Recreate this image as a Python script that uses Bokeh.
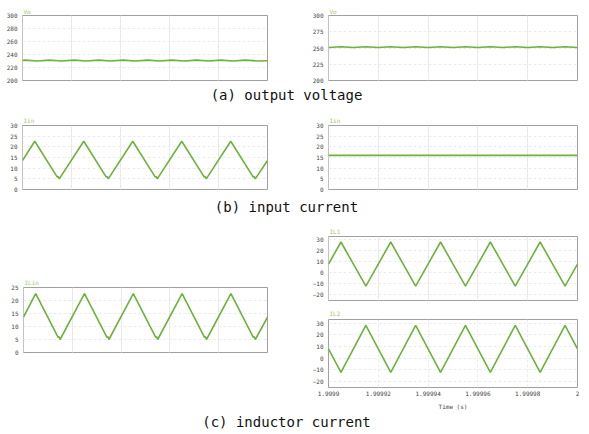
from bokeh.plotting import figure
from bokeh.models import Range1d, FixedTicker, Grid, Div, CustomJSTickFormatter
from bokeh.layouts import row, column
from bokeh.embed import file_html
from bokeh.resources import INLINE

# ---------------- data ----------------
X_RANGE = (1.9999, 2.0)
X_TICKS = [1.9999, 1.99992, 1.99994, 1.99996, 1.99998, 2.0]

# (a) output voltage, left
vo1_t = [1.9999, 1.999901, 1.999906, 1.999911, 1.999916, 1.999921, 1.999926, 1.999931,
         1.999936, 1.999941, 1.999946, 1.999951, 1.999956, 1.999961, 1.999966, 1.999971,
         1.999976, 1.999981, 1.999986, 1.999991, 1.999996, 2.0]
vo1_v = [230.9, 231.3, 230.1, 231.3, 230.1, 231.3, 230.1, 231.3, 230.1, 231.3, 230.1,
         231.3, 230.1, 231.3, 230.1, 231.3, 230.1, 231.3, 230.1, 231.3, 230.1, 230.5]
vo1_ticks = [200, 220, 240, 260, 280, 300]

# (a) output voltage, right
vo2_t = [1.9999, 1.999905, 1.99991, 1.999915, 1.99992, 1.999925, 1.99993, 1.999935,
         1.99994, 1.999945, 1.99995, 1.999955, 1.99996, 1.999965, 1.99997, 1.999975,
         1.99998, 1.999985, 1.99999, 1.999995, 2.0]
vo2_v = [250.8, 251.9, 250.8, 251.9, 250.8, 251.9, 250.8, 251.9, 250.8, 251.9, 250.8,
         251.9, 250.8, 251.9, 250.8, 251.9, 250.8, 251.9, 250.8, 251.9, 250.8]
vo2_ticks = [200, 225, 250, 275, 300]

# (b) input current, left (also (c) left, ILin)
iin1_t = [1.9999, 1.999905, 1.9999142, 1.9999146, 1.999915, 1.999925, 1.9999342, 1.9999346,
          1.999935, 1.999945, 1.9999542, 1.9999546, 1.999955, 1.999965, 1.9999742, 1.9999746,
          1.999975, 1.999985, 1.9999942, 1.9999946, 1.999995, 2.0]
iin1_v = [13.6, 22.6, 5.8, 6.1, 5.0, 22.6, 5.8, 6.1, 5.0, 22.6, 5.8, 6.1, 5.0, 22.6,
          5.8, 6.1, 5.0, 22.6, 5.8, 6.1, 5.0, 13.6]
iin1_ticks = [0, 5, 10, 15, 20, 25, 30]
ilin_ticks = [0, 5, 10, 15, 20, 25]

# (b) input current, right
iin2_t = [1.9999, 2.0]
iin2_v = [16.0, 16.0]

# (c) inductor currents
il_t = [1.9999, 1.999905, 1.999915, 1.999925, 1.999935, 1.999945, 1.999955, 1.999965,
        1.999975, 1.999985, 1.999995, 2.0]
il1_v = [8, 28, -12, 28, -12, 28, -12, 28, -12, 28, -12, 8]
il2_v = [8, -12, 28, -12, 28, -12, 28, -12, 28, -12, 28, 8]
il_ticks = [-20, -10, 0, 10, 20, 30]

captions = ["(a) output voltage", "(b) input current", "(c) inductor current"]

# ---------------- styling ----------------
LINE = "#6cb23c"
TITLE_C = "#9ccc6c"
LABEL_C = "#444444"
GRID_C = "#ececec"
OUTLINE_C = "#a0a0a0"
SMALL_FONT = "DejaVu Sans Mono"


def make_fig(w, h, left, right, top, bottom, yr, yticks, title, standoff,
             xs, ys, show_x=False):
    p = figure(width=w, height=h, output_backend="svg", toolbar_location=None,
               x_range=Range1d(*X_RANGE), y_range=Range1d(*yr),
               x_axis_location="below" if show_x else None,
               min_border_left=left, min_border_right=right,
               min_border_top=top, min_border_bottom=bottom,
               title=title)
    p.title.text_font = SMALL_FONT
    p.title.text_font_size = "6px"
    p.title.text_font_style = "normal"
    p.title.text_color = TITLE_C
    p.title.standoff = standoff
    p.title.offset = 1
    p.title.align = "left"
    p.outline_line_color = OUTLINE_C
    p.outline_line_width = 1
    p.background_fill_color = "white"
    p.border_fill_color = "white"

    yt = FixedTicker(ticks=yticks)
    ax = p.yaxis[0]
    ax.ticker = yt
    ax.major_label_text_font = SMALL_FONT
    ax.major_label_text_font_size = "6px"
    ax.major_label_text_color = LABEL_C
    ax.major_tick_line_color = None
    ax.minor_tick_line_color = None
    ax.major_tick_out = 0
    ax.major_tick_in = 0
    ax.axis_line_color = None
    ax.major_label_standoff = 5
    p.ygrid[0].ticker = yt
    p.ygrid[0].grid_line_color = GRID_C
    p.ygrid[0].grid_line_dash = "3 2"

    xt = FixedTicker(ticks=X_TICKS)
    if show_x:
        xa = p.xaxis[0]
        xa.ticker = xt
        xa.formatter = CustomJSTickFormatter(code="return String(+tick.toPrecision(6));")
        xa.major_label_text_font = SMALL_FONT
        xa.major_label_text_font_size = "6px"
        xa.major_label_text_color = LABEL_C
        xa.major_tick_line_color = None
        xa.minor_tick_line_color = None
        xa.major_tick_out = 0
        xa.major_tick_in = 0
        xa.axis_line_color = None
        xa.major_label_standoff = 3
        xa.axis_label = "Time (s)"
        xa.axis_label_text_font = SMALL_FONT
        xa.axis_label_text_font_size = "6px"
        xa.axis_label_text_font_style = "normal"
        xa.axis_label_text_color = LABEL_C
        xa.axis_label_standoff = 4
        p.xgrid[0].ticker = xt
        p.xgrid[0].grid_line_color = GRID_C
        p.xgrid[0].grid_line_dash = "3 2"
    else:
        p.add_layout(Grid(dimension=0, ticker=xt, grid_line_color=GRID_C,
                          grid_line_dash="3 2"))

    p.line(xs, ys, line_color=LINE, line_width=1.6)
    return p


def caption(text, h, lh):
    return Div(text=text, width=573, height=h, margin=0,
               styles={"font-family": "DejaVu Sans Mono", "font-size": "14px",
                       "text-align": "center", "line-height": f"{lh}px",
                       "color": "#111111", "overflow": "visible",
                       "white-space": "pre"})


LW, LL, LR = 292, 22, 25
RW, RL, RR = 287, 36, 2

pa1 = make_fig(LW, 84, LL, LR, 15, 3, (200, 300), vo1_ticks, "Vo", 1, vo1_t, vo1_v)
pa2 = make_fig(RW, 84, RL, RR, 15, 4, (200, 300), vo2_ticks, "Vo", 1, vo2_t, vo2_v)
pb1 = make_fig(LW, 88, LL, LR, 19, 3, (0, 30), iin1_ticks, "Iin", 4, iin1_t, iin1_v)
pb2 = make_fig(RW, 88, RL, RR, 18, 5, (0, 30), iin1_ticks, "Iin", 4, iin2_t, iin2_v)
pc0 = make_fig(LW, 192, LL + 1, LR, 67, 60, (0, 25), ilin_ticks, "ILin", 3, iin1_t, iin1_v)
pc1 = make_fig(RW, 83, RL, RR, 16, 3, (-25, 33), il_ticks, "IL1", 3, il_t, il1_v)
pc2 = make_fig(RW, 109, RL, RR, 16, 24, (-25, 33), il_ticks, "IL2", 5, il_t, il2_v, show_x=True)

layout = column(
    row(pa1, pa2, spacing=0),
    caption(captions[0], 22, 22),
    row(pb1, pb2, spacing=0),
    caption(captions[1], 26, 26),
    row(pc0, column(pc1, pc2, spacing=0), spacing=0),
    caption(captions[2], 14, 20),
    spacing=0,
)

with open("out.html", "w") as f:
    f.write(file_html(layout, INLINE))
